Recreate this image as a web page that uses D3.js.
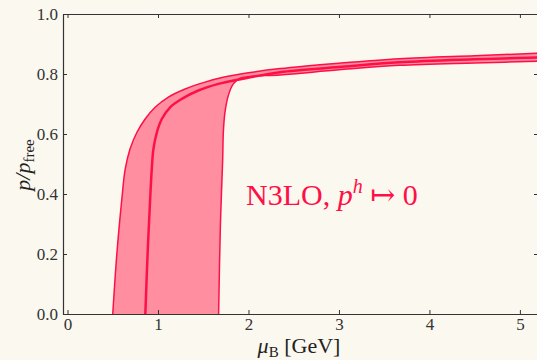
<!DOCTYPE html>
<html>
<head>
<meta charset="utf-8">
<script src="https://cdn.jsdelivr.net/npm/d3@7"></script>
<style>
  body { margin: 0; background: #fbf8ef; }
  svg { display: block; }
</style>
</head>
<body>
<div id="chart"></div>
<script>
// band edges and central curve, mu_B in GeV vs p/p_free
const muUpper = [0.50, 0.545, 0.60, 0.637, 0.69, 0.766, 0.858, 0.968, 1.115, 1.30, 1.52, 1.72, 2.0, 2.35, 3.0, 3.67, 4.5, 5.3];
const pUpper  = [0.0, 0.2, 0.382, 0.482, 0.549, 0.605, 0.65, 0.689, 0.723, 0.75, 0.773, 0.789, 0.804, 0.818, 0.836, 0.851, 0.861, 0.870];

const muMid = [0.86, 0.885, 0.913, 0.931, 0.949, 0.987, 1.042, 1.134, 1.263, 1.446, 1.667, 1.9, 2.35, 3.0, 3.67, 4.5, 5.3];
const pMid  = [0.0, 0.2, 0.382, 0.482, 0.549, 0.605, 0.65, 0.689, 0.717, 0.745, 0.767, 0.782, 0.806, 0.823, 0.839, 0.849, 0.856];

const muLower = [1.67, 1.69, 1.715, 1.722, 1.74, 1.777, 1.832, 1.906, 2.017, 2.35, 3.0, 3.67, 4.5, 5.3];
const pLower  = [0.0, 0.3, 0.516, 0.605, 0.672, 0.728, 0.767, 0.786, 0.792, 0.797, 0.814, 0.829, 0.837, 0.843];

const xTicks = [0, 1, 2, 3, 4, 5];
const yTicks = [0, 0.2, 0.4, 0.6, 0.8, 1.0];

const W = 537, H = 360;
const margin = { top: 14, right: -1, bottom: 46, left: 63 };
const red = "#ff0f47", pink = "#ff8fa0";
const serif = "'Liberation Serif', 'DejaVu Serif', serif";

const svg = d3.select("#chart").append("svg")
  .attr("width", W).attr("height", H);

svg.append("rect").attr("width", W).attr("height", H).attr("fill", "#fbf8ef");

const x = d3.scaleLinear().domain([-0.05, 5.2]).range([margin.left, W - margin.right]);
const y = d3.scaleLinear().domain([0, 1]).range([H - margin.bottom, margin.top]);

svg.append("clipPath").attr("id", "clip")
  .append("rect")
  .attr("x", margin.left).attr("y", margin.top)
  .attr("width", W - margin.right - margin.left)
  .attr("height", H - margin.bottom - margin.top);

const zip = (a, b) => a.map((v, i) => [v, b[i]]);
const upper = zip(muUpper, pUpper);
const mid = zip(muMid, pMid);
const lower = zip(muLower, pLower);

const line = d3.line()
  .x(d => x(d[0])).y(d => y(d[1]))
  .curve(d3.curveCatmullRom.alpha(0.5));

const plot = svg.append("g").attr("clip-path", "url(#clip)");

// band fill: upper edge forward, lower edge back
const fillPath = line(upper) + "L" + line(lower.slice().reverse()).slice(1) + "Z";
plot.append("path")
  .attr("d", fillPath)
  .attr("fill", pink);

plot.append("path").attr("d", line(upper))
  .attr("fill", "none").attr("stroke", red).attr("stroke-width", 1.5);
plot.append("path").attr("d", line(lower))
  .attr("fill", "none").attr("stroke", red).attr("stroke-width", 1.5);
plot.append("path").attr("d", line(mid))
  .attr("fill", "none").attr("stroke", red).attr("stroke-width", 2.5);

// axes, ticks pointing in
function styleAxis(g) {
  g.attr("font-family", serif).attr("font-size", 17);
  g.selectAll("text").attr("fill", "#333");
  g.selectAll("line").attr("stroke", "#333");
  g.select(".domain").attr("stroke", "#333").attr("stroke-width", 1.2);
}
svg.append("g")
  .attr("transform", `translate(0,${H - margin.bottom})`)
  .call(d3.axisBottom(x).tickValues(xTicks).tickFormat(d3.format("d")).tickSizeInner(-4).tickSizeOuter(0).tickPadding(4))
  .call(styleAxis);
svg.append("g")
  .attr("transform", `translate(0,${margin.top})`)
  .call(d3.axisTop(x).tickValues(xTicks).tickFormat("").tickSizeInner(-4).tickSizeOuter(0))
  .call(styleAxis);
svg.append("g")
  .attr("transform", `translate(${margin.left},0)`)
  .call(d3.axisLeft(y).tickValues(yTicks).tickFormat(d3.format(".1f")).tickSizeInner(-4).tickSizeOuter(0).tickPadding(5))
  .call(styleAxis);
svg.append("g")
  .attr("transform", `translate(${W - margin.right},0)`)
  .call(d3.axisRight(y).tickValues(yTicks).tickFormat("").tickSizeInner(-4).tickSizeOuter(0))
  .call(styleAxis);

// annotation
const ann = svg.append("text")
  .attr("x", 246).attr("y", 205)
  .attr("fill", red)
  .style("font-family", serif)
  .style("font-size", "30px");
ann.append("tspan").text("N3LO, ");
ann.append("tspan").style("font-style", "italic").text("p");
ann.append("tspan").attr("dy", -12).style("font-size", "20px").style("font-style", "italic").text("h");
ann.append("tspan").attr("dy", 12).text(" \u21A6 0");

// x label
const xl = svg.append("text")
  .attr("x", 299).attr("y", 353)
  .attr("text-anchor", "middle")
  .attr("fill", "#222")
  .style("font-family", serif)
  .style("font-size", "22px");
xl.append("tspan").style("font-style", "italic").text("\u03BC");
xl.append("tspan").attr("dy", 4).style("font-size", "15px").text("B");
xl.append("tspan").attr("dy", -4).text(" [GeV]");

// y label
const yl = svg.append("text")
  .attr("transform", "translate(30,165) rotate(-90)")
  .attr("text-anchor", "middle")
  .attr("fill", "#222")
  .style("font-family", serif)
  .style("font-size", "22px");
yl.append("tspan").style("font-style", "italic").text("p/p");
yl.append("tspan").attr("dy", 4).style("font-size", "15px").text("free");
</script>
</body>
</html>
